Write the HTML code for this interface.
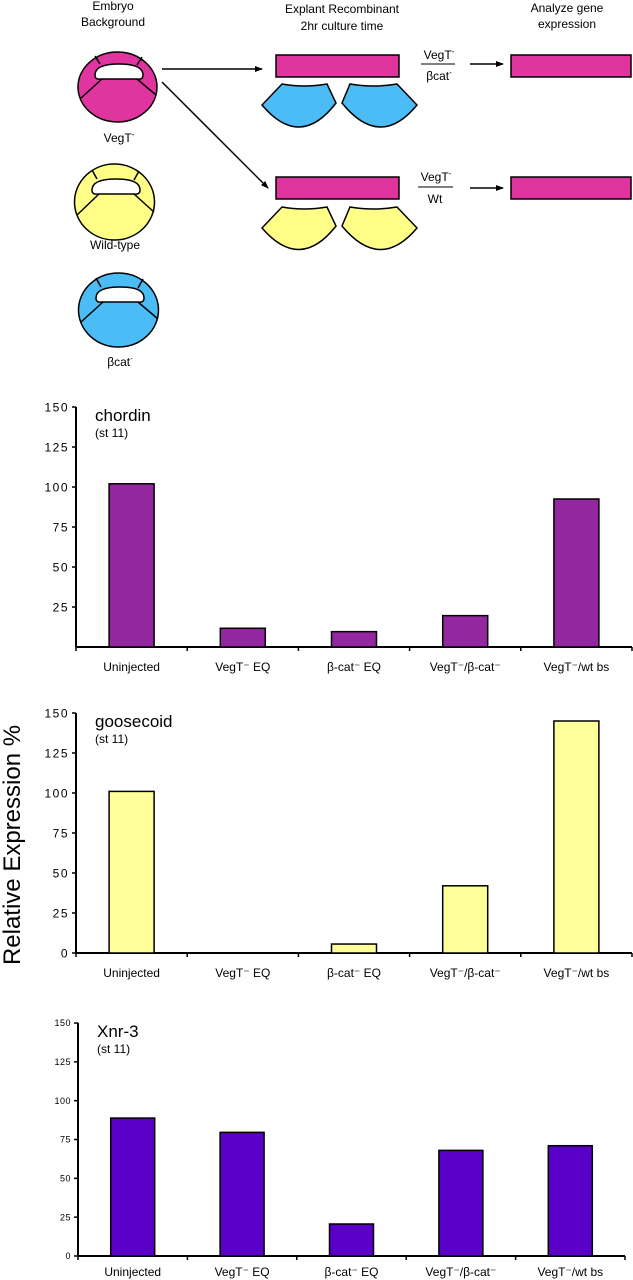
<!DOCTYPE html>
<html><head><meta charset="utf-8"><style>
html,body{margin:0;padding:0;background:#fff;}
svg{display:block;font-family:"Liberation Sans",sans-serif;}
</style></head><body>
<svg id="fig" width="633" height="1280" viewBox="0 0 633 1280" xmlns="http://www.w3.org/2000/svg">
<defs>
<marker id="ah" markerWidth="8" markerHeight="8" refX="7" refY="4" orient="auto" markerUnits="userSpaceOnUse"><path d="M0,1 L8,4 L0,7 Z" fill="#000"/></marker>
</defs>
<g font-size="12" text-anchor="middle">
<text x="113" y="10">Embryo</text>
<text x="113" y="26">Background</text>
<text x="342" y="13">Explant Recombinant</text>
<text x="342" y="30">2hr culture time</text>
<text x="567" y="12">Analyze gene</text>
<text x="567" y="28">expression</text>

<g stroke="#000" stroke-width="1.5" transform="translate(0,0)">
<ellipse cx="117.5" cy="87" rx="39.5" ry="35" fill="#e0359f"/>
<path d="M95,75 Q95,64 119,64 Q143,64 143,75 Q143,80 137,79 L101,79 Q95,80 95,75 Z" fill="#fff"/>
<path d="M100,64 L95,56 M137,65 L142,57 M102,79 L81,98 M137,79 L156,95" fill="none"/>
</g>
<text x="119" y="142">VegT<tspan dy="-5" font-size="8">-</tspan></text>
<g stroke="#000" stroke-width="1.5" transform="translate(-3,115)">
<ellipse cx="117.5" cy="87" rx="40" ry="38" fill="#ffff88"/>
<path d="M95,75 Q95,64 119,64 Q143,64 143,75 Q143,80 137,79 L101,79 Q95,80 95,75 Z" fill="#fff"/>
<path d="M100,64 L95,55 M137,65 L142,56 M102,79 L80,100 M137,79 L157,97" fill="none"/>
</g>
<text x="115" y="249">Wild-type</text>
<g stroke="#000" stroke-width="1.5" transform="translate(1,223)">
<ellipse cx="117.5" cy="87" rx="40" ry="37" fill="#4bbcf5"/>
<path d="M95,75 Q95,64 119,64 Q143,64 143,75 Q143,80 137,79 L101,79 Q95,80 95,75 Z" fill="#fff"/>
<path d="M100,64 L95,55 M137,65 L142,56 M102,79 L80,99 M137,79 L157,96" fill="none"/>
</g>
<text x="120" y="366">βcat<tspan dy="-5" font-size="8">-</tspan></text>

<line x1="162" y1="69" x2="262" y2="69" stroke="#000" stroke-width="1.5" marker-end="url(#ah)"/>
<line x1="162" y1="82" x2="268" y2="188" stroke="#000" stroke-width="1.5" marker-end="url(#ah)"/>

<rect x="276" y="55" width="123" height="22" fill="#e0359f" stroke="#000" stroke-width="1.5"/>
<rect x="276" y="177" width="123" height="22" fill="#e0359f" stroke="#000" stroke-width="1.5"/>
<g stroke="#000" stroke-width="1.5" fill="#4bbcf5">
<path d="M282,84 Q304,88 327,84 L336,103 Q300,150 262,105 Z"/>
<path d="M350,84 Q373,88 397,84 L417,105 Q380,150 342,103 Z"/>
</g>
<g stroke="#000" stroke-width="1.5" fill="#ffff88">
<path d="M282,207 Q304,211 327,207 L336,226 Q300,272 262,228 Z"/>
<path d="M350,207 Q373,211 397,207 L417,228 Q380,272 342,226 Z"/>
</g>
<text x="439" y="59">VegT<tspan dy="-5" font-size="8">-</tspan></text>
<line x1="421" y1="64" x2="455" y2="64" stroke="#000"/>
<text x="439" y="80">βcat<tspan dy="-5" font-size="8">-</tspan></text>
<text x="436" y="181">VegT<tspan dy="-5" font-size="8">-</tspan></text>
<line x1="418" y1="187" x2="453" y2="187" stroke="#000"/>
<text x="435" y="203">Wt</text>
<line x1="470" y1="64" x2="503" y2="64" stroke="#000" stroke-width="1.5" marker-end="url(#ah)"/>
<line x1="470" y1="188" x2="503" y2="188" stroke="#000" stroke-width="1.5" marker-end="url(#ah)"/>
<rect x="511" y="55" width="120" height="22" fill="#e0359f" stroke="#000" stroke-width="1.5"/>
<rect x="511" y="177" width="120" height="22" fill="#e0359f" stroke="#000" stroke-width="1.5"/>
</g>

<text transform="translate(20,845) rotate(-90)" text-anchor="middle" font-size="24">Relative Expression %</text>
<g id="charts"></g>
</svg>
<script>
const categories = ["Uninjected", "VegT⁻ EQ", "β-cat⁻ EQ", "VegT⁻/β-cat⁻", "VegT⁻/wt bs"];
const tickValues = [0, 25, 50, 75, 100, 125, 150];
const chordinValues = [102, 11.7, 9.6, 19.6, 92.5];
const goosecoidValues = [101, 0, 5.6, 42, 145];
const xnr3Values = [88.8, 79.6, 20.6, 68, 71];

const NS = "http://www.w3.org/2000/svg";
const root = document.getElementById("charts");
function mk(tag, attrs, parent) {
  const e = document.createElementNS(NS, tag);
  for (const k in attrs) e.setAttribute(k, attrs[k]);
  parent.appendChild(e);
  return e;
}
function drawChart(cfg, values) {
  const g = mk("g", {}, root);
  
  
  const y = v => cfg.y0 - (v / 150) * (cfg.y0 - cfg.y150);
  const band = (cfg.xEnd - cfg.x0) / categories.length;
  const x = i => cfg.x0 + band * (i + 0.5);
  const ya = mk("line", {x1: cfg.x0, y1: y(150), x2: cfg.x0, y2: cfg.y0, stroke: "#000", "stroke-width": 2}, g);
  
  
  tickValues.forEach(v => {
    if (v === 0 && !cfg.showZero) return;
    const t = mk("line", {x1: cfg.x0 - 4, y1: y(v), x2: cfg.x0, y2: y(v), stroke: "#000", "stroke-width": 1.5}, g);
    
    
    const l = mk("text", {x: cfg.x0 - 7, y: y(v) + cfg.tickFont * 0.36, "text-anchor": "end", "font-size": cfg.tickFont, "letter-spacing": cfg.tickSpacing}, g);
    l.textContent = v;
    
    
  });
  const xa = mk("line", {x1: cfg.x0, y1: cfg.y0, x2: cfg.xEnd, y2: cfg.y0, stroke: "#000", "stroke-width": 2}, g);
  
  
  for (let i = 0; i <= categories.length; i++) {
    const t = mk("line", {x1: cfg.x0 + band * i, y1: cfg.y0, x2: cfg.x0 + band * i, y2: cfg.y0 + 4, stroke: "#000", "stroke-width": 1.5}, g);
    
    
  }
  values.forEach((v, i) => {
    if (v > 0) {
      const b = mk("rect", {x: x(i) - cfg.barW / 2, y: y(v), width: cfg.barW, height: cfg.y0 - y(v), fill: cfg.color, stroke: "#000", "stroke-width": 1.5}, g);
      
      
    }
    const l = mk("text", {x: x(i), y: cfg.y0 + cfg.labelOff, "text-anchor": "middle", "font-size": 12}, g);
    l.textContent = categories[i];
    
    
  });
  const t1 = mk("text", {x: cfg.x0 + 19, y: y(150) + 14, "font-size": 17}, g);
  t1.textContent = cfg.title;
  
  
  const t2 = mk("text", {x: cfg.x0 + 19, y: y(150) + 30, "font-size": 12}, g);
  t2.textContent = "(st 11)";
  
  
}
drawChart({name: "chordin", title: "chordin", x0: 76, xEnd: 632, y0: 647, y150: 407, barW: 45, color: "#93279f", tickFont: 12, tickSpacing: 1.5, showZero: false, labelOff: 24}, chordinValues);
drawChart({name: "goosecoid", title: "goosecoid", x0: 76, xEnd: 632, y0: 953, y150: 713, barW: 45, color: "#ffff99", tickFont: 12, tickSpacing: 1.5, showZero: true, labelOff: 24}, goosecoidValues);
drawChart({name: "xnr3", title: "Xnr-3", x0: 78, xEnd: 625, y0: 1256, y150: 1023, barW: 44, color: "#5b00c8", tickFont: 9, tickSpacing: 0.5, showZero: true, labelOff: 20}, xnr3Values);
</script>
</body></html>
